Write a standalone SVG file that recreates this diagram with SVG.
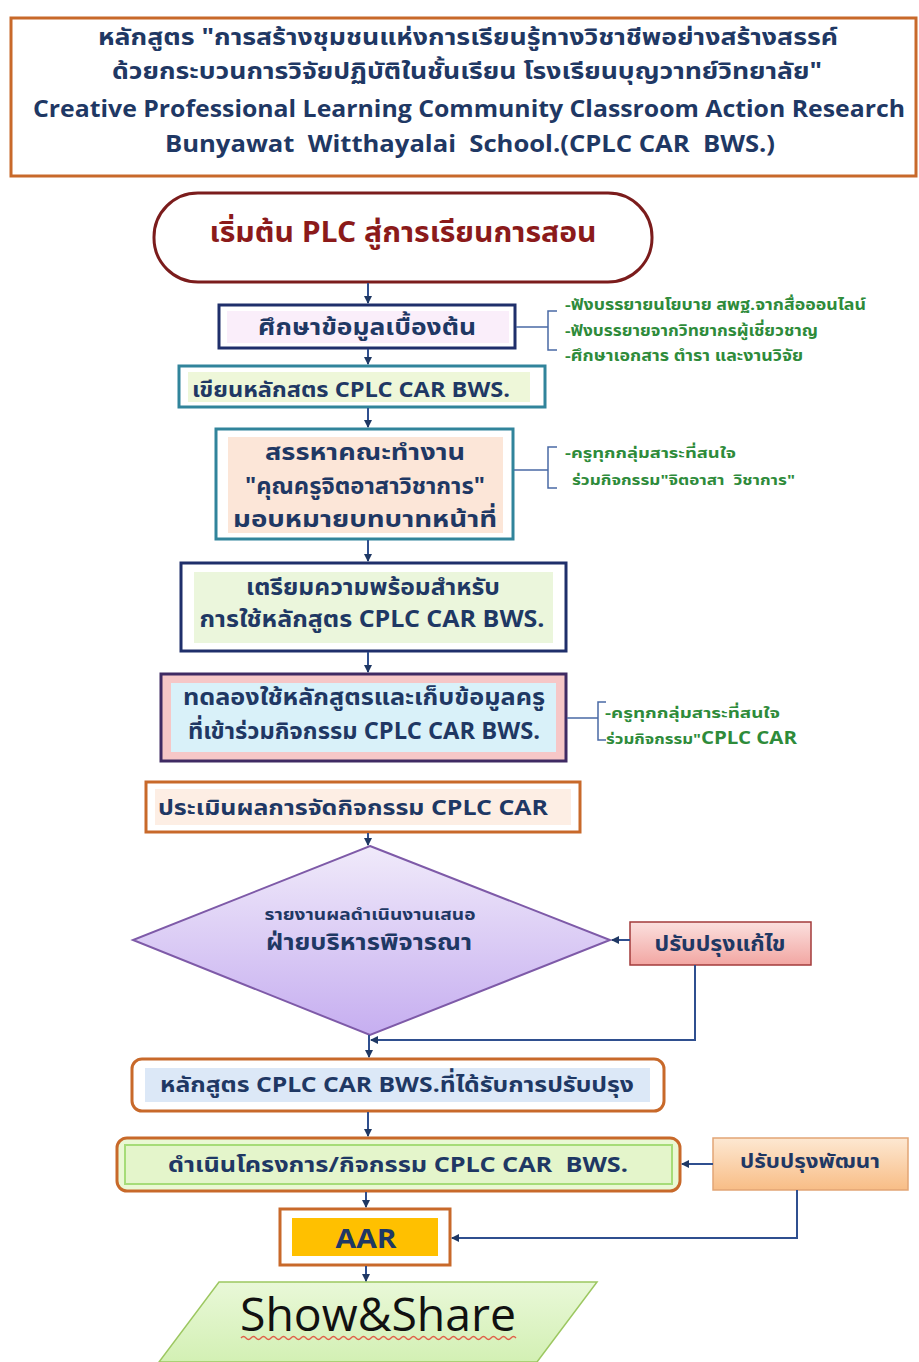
<svg xmlns="http://www.w3.org/2000/svg" width="919" height="1362" viewBox="0 0 919 1362">
<style>
text{font-family:"Noto Sans Thai","Noto Sans","DejaVu Sans",sans-serif;font-weight:bold;fill:#1f3864;white-space:pre}
.t{font-size:23px;text-anchor:middle;dominant-baseline:central}
.s{dominant-baseline:central}
.e{font-family:"Open Sans","Liberation Sans",sans-serif}
.g{font-size:15px;fill:#2e8b3a;dominant-baseline:central}
.con{fill:none;stroke:#2f4f8f;stroke-width:2}
.br{fill:none;stroke:#4a6aa5;stroke-width:1.5}
</style>
<defs>
<marker id="ah" markerWidth="8" markerHeight="8" refX="7" refY="4" orient="auto" markerUnits="userSpaceOnUse">
<path d="M0,0 L8,4 L0,8 z" fill="#1f3864"/>
</marker>
<linearGradient id="dia" x1="0" y1="0" x2="0" y2="1"><stop offset="0" stop-color="#f0eafa"/><stop offset="1" stop-color="#c6aef0"/></linearGradient>
<linearGradient id="red" x1="0" y1="0" x2="0" y2="1"><stop offset="0" stop-color="#fbe0de"/><stop offset="1" stop-color="#f2a6a2"/></linearGradient>
<linearGradient id="org" x1="0" y1="0" x2="0" y2="1"><stop offset="0" stop-color="#fde8d2"/><stop offset="1" stop-color="#f8bd86"/></linearGradient>
<linearGradient id="grn" x1="0" y1="0" x2="0" y2="1"><stop offset="0" stop-color="#e9f8d8"/><stop offset="1" stop-color="#d3f0b4"/></linearGradient>
</defs>

<g id="title">
<rect x="11" y="18" width="905" height="158" fill="#fff" stroke="#c8692a" stroke-width="3"/>
<text class="t" x="468" y="38" textLength="740" lengthAdjust="spacingAndGlyphs">หลักสูตร "การสร้างชุมชนแห่งการเรียนรู้ทางวิชาชีพอย่างสร้างสรรค์</text>
<text class="t" x="467" y="72" textLength="710" lengthAdjust="spacingAndGlyphs">ด้วยกระบวนการวิจัยปฏิบัติในชั้นเรียน โรงเรียนบุญวาทย์วิทยาลัย"</text>
<text class="t e" x="469" y="107" style="font-size:24px" textLength="872" lengthAdjust="spacingAndGlyphs">Creative Professional Learning Community Classroom Action Research</text>
<text class="t e" x="470" y="142" style="font-size:24px" textLength="610" lengthAdjust="spacingAndGlyphs">Bunyawat  Witthayalai  School.(CPLC CAR  BWS.)</text>
</g>

<g id="start">
<rect x="154" y="193" width="498" height="89" rx="44" fill="#fff" stroke="#7b1c1c" stroke-width="3"/>
<text class="t" x="403" y="233" style="font-size:28px;fill:#8b1a1a" textLength="387" lengthAdjust="spacingAndGlyphs">เริ่มต้น PLC สู่การเรียนการสอน</text>
</g>

<g id="study">
<rect x="219" y="305" width="296" height="43" fill="#fff" stroke="#1f2f6b" stroke-width="3"/>
<rect x="227" y="311" width="282" height="32" fill="#faeefa"/>
<text class="t" x="367" y="328" textLength="218" lengthAdjust="spacingAndGlyphs">ศึกษาข้อมูลเบื้องต้น</text>
</g>
<g id="study-notes">
<path class="br" d="M516,327 H548 M557,311 H548 V350 H557"/>
<text class="g" x="565" y="305" textLength="301" lengthAdjust="spacingAndGlyphs">-ฟังบรรยายนโยบาย สพฐ.จากสื่อออนไลน์</text>
<text class="g" x="565" y="331" textLength="253" lengthAdjust="spacingAndGlyphs">-ฟังบรรยายจากวิทยากรผู้เชี่ยวชาญ</text>
<text class="g" x="565" y="356" textLength="238" lengthAdjust="spacingAndGlyphs">-ศึกษาเอกสาร ตำรา และงานวิจัย</text>
</g>

<g id="write">
<rect x="179" y="366" width="366" height="41" fill="#fff" stroke="#31849b" stroke-width="3"/>
<rect x="188" y="372" width="342" height="30" fill="#eef7d9"/>
<text class="s" x="192" y="390" style="font-size:21px" textLength="318" lengthAdjust="spacingAndGlyphs">เขียนหลักสตร CPLC CAR BWS.</text>
</g>

<g id="recruit">
<rect x="216" y="429" width="297" height="110" fill="#fff" stroke="#31849b" stroke-width="3"/>
<rect x="228" y="437" width="275" height="96" fill="#fce6d8"/>
<text class="t" x="365" y="453" textLength="200" lengthAdjust="spacingAndGlyphs">สรรหาคณะทำงาน</text>
<text class="t" x="365" y="487" textLength="240" lengthAdjust="spacingAndGlyphs">"คุณครูจิตอาสาวิชาการ"</text>
<text class="t" x="365" y="520" textLength="264" lengthAdjust="spacingAndGlyphs">มอบหมายบทบาทหน้าที่</text>
</g>
<g id="recruit-notes">
<path class="br" d="M514,470 H548 M557,447 H548 V488 H557"/>
<text class="g" x="565" y="453" style="font-size:14px" textLength="171" lengthAdjust="spacingAndGlyphs">-ครูทุกกลุ่มสาระที่สนใจ</text>
<text class="g" x="572" y="480" style="font-size:14px" textLength="223" lengthAdjust="spacingAndGlyphs">ร่วมกิจกรรม"จิตอาสา  วิชาการ"</text>
</g>

<g id="prepare">
<rect x="181" y="563" width="385" height="88" fill="#fff" stroke="#1f2f6b" stroke-width="3"/>
<rect x="194" y="572" width="359" height="71" fill="#ebf6dc"/>
<text class="t" x="373" y="588" textLength="254" lengthAdjust="spacingAndGlyphs">เตรียมความพร้อมสำหรับ</text>
<text class="t" x="372" y="620" textLength="345" lengthAdjust="spacingAndGlyphs">การใช้หลักสูตร CPLC CAR BWS.</text>
</g>

<g id="trial">
<rect x="161" y="674" width="405" height="87" fill="#f6c7c7" stroke="#3f2a63" stroke-width="3"/>
<rect x="171" y="683" width="385" height="69" fill="#d9f1f9"/>
<text class="t" x="364" y="698" textLength="362" lengthAdjust="spacingAndGlyphs">ทดลองใช้หลักสูตรและเก็บข้อมูลครู</text>
<text class="t" x="364" y="732" textLength="352" lengthAdjust="spacingAndGlyphs">ที่เข้าร่วมกิจกรรม CPLC CAR BWS.</text>
</g>
<g id="trial-notes">
<path class="br" d="M567,718 H598 M606,702 H598 V740 H606"/>
<text class="g" x="605" y="713" style="font-size:14px" textLength="175" lengthAdjust="spacingAndGlyphs">-ครูทุกกลุ่มสาระที่สนใจ</text>
<text class="g" x="606" y="739" style="font-size:14px" textLength="191" lengthAdjust="spacingAndGlyphs">ร่วมกิจกรรม"<tspan style="font-size:17px">CPLC CAR</tspan></text>
</g>

<g id="evaluate">
<rect x="146" y="782" width="434" height="50" fill="#fff" stroke="#c8692a" stroke-width="3"/>
<rect x="155" y="789" width="416" height="36" fill="#fdeee4"/>
<text class="s" x="158" y="808" style="font-size:22px" textLength="390" lengthAdjust="spacingAndGlyphs">ประเมินผลการจัดกิจกรรม CPLC CAR</text>
</g>

<g id="decision">
<polygon points="370,846 610,940 370,1035 133,940" fill="url(#dia)" stroke="#7e5aa8" stroke-width="2"/>
<text class="t" x="370" y="915" style="font-size:16px" textLength="211" lengthAdjust="spacingAndGlyphs">รายงานผลดำเนินงานเสนอ</text>
<text class="t" x="369" y="943" textLength="206" lengthAdjust="spacingAndGlyphs">ฝ่ายบริหารพิจารณา</text>
</g>

<g id="fix">
<rect x="630" y="922" width="181" height="43" fill="url(#red)" stroke="#a33b3b" stroke-width="1.5"/>
<text class="t" x="720" y="944" style="font-size:21px" textLength="131" lengthAdjust="spacingAndGlyphs">ปรับปรุงแก้ไข</text>
</g>

<g id="revised">
<rect x="132" y="1059" width="532" height="52" rx="10" fill="#fff" stroke="#c8692a" stroke-width="3"/>
<rect x="145" y="1068" width="505" height="34" fill="#dce8f7"/>
<text class="t" x="397" y="1085" style="font-size:22px" textLength="474" lengthAdjust="spacingAndGlyphs">หลักสูตร CPLC CAR BWS.ที่ได้รับการปรับปรุง</text>
</g>

<g id="run">
<rect x="117" y="1138" width="563" height="53" rx="10" fill="#eaf8d4" stroke="#c8692a" stroke-width="3"/>
<rect x="125" y="1145" width="547" height="39" fill="#e4f5cb" stroke="#a6dc78" stroke-width="2"/>
<text class="t" x="398" y="1165" style="font-size:22px" textLength="460" lengthAdjust="spacingAndGlyphs">ดำเนินโครงการ/กิจกรรม CPLC CAR  BWS.</text>
</g>

<g id="develop">
<rect x="713" y="1138" width="195" height="52" fill="url(#org)" stroke="#e2a575" stroke-width="1.5"/>
<text class="t" x="810" y="1162" style="font-size:20px" textLength="140" lengthAdjust="spacingAndGlyphs">ปรับปรุงพัฒนา</text>
</g>

<g id="aar">
<rect x="280" y="1209" width="170" height="56" fill="#fff" stroke="#c8692a" stroke-width="3"/>
<rect x="292" y="1218" width="146" height="38" fill="#ffc000"/>
<text class="t e" x="366" y="1238" style="font-size:26px" textLength="61" lengthAdjust="spacingAndGlyphs">AAR</text>
</g>

<g id="share">
<polygon points="219,1282 597,1282 537,1362 159,1362" fill="url(#grn)" stroke="#9cc760" stroke-width="1.5"/>
<text x="378" y="1331" class="e" style="font-weight:normal;font-size:46px;fill:#111;text-anchor:middle" textLength="276" lengthAdjust="spacingAndGlyphs">Show&amp;Share</text>
<path d="M241,1338 q2.5,-3 5,0 t5,0 t5,0 t5,0 t5,0 t5,0 t5,0 t5,0 t5,0 t5,0 t5,0 t5,0 t5,0 t5,0 t5,0 t5,0 t5,0 t5,0 t5,0 t5,0 t5,0 t5,0 t5,0 t5,0 t5,0 t5,0 t5,0 t5,0 t5,0 t5,0 t5,0 t5,0 t5,0 t5,0 t5,0 t5,0 t5,0 t5,0 t5,0 t5,0 t5,0 t5,0 t5,0 t5,0 t5,0 t5,0 t5,0 t5,0 t5,0 t5,0 t5,0 t5,0 t5,0 t5,0 t5,0" fill="none" stroke="#e0604a" stroke-width="1.3"/>
</g>

<g id="connectors">
<path class="con" d="M368,283 V303" marker-end="url(#ah)"/>
<path class="con" d="M368,349 V364" marker-end="url(#ah)"/>
<path class="con" d="M368,408 V427" marker-end="url(#ah)"/>
<path class="con" d="M368,540 V561" marker-end="url(#ah)"/>
<path class="con" d="M368,652 V672" marker-end="url(#ah)"/>
<path class="con" d="M368,833 V845" marker-end="url(#ah)"/>
<path class="con" d="M630,940 H612" marker-end="url(#ah)"/>
<path class="con" d="M695,965 V1040 H371" marker-end="url(#ah)"/>
<path class="con" d="M369,1035 V1057" marker-end="url(#ah)"/>
<path class="con" d="M368,1112 V1136" marker-end="url(#ah)"/>
<path class="con" d="M713,1164 H682" marker-end="url(#ah)"/>
<path class="con" d="M797,1190 V1238 H452" marker-end="url(#ah)"/>
<path class="con" d="M366,1192 V1207" marker-end="url(#ah)"/>
<path class="con" d="M366,1266 V1281" marker-end="url(#ah)"/>
</g>
</svg>
